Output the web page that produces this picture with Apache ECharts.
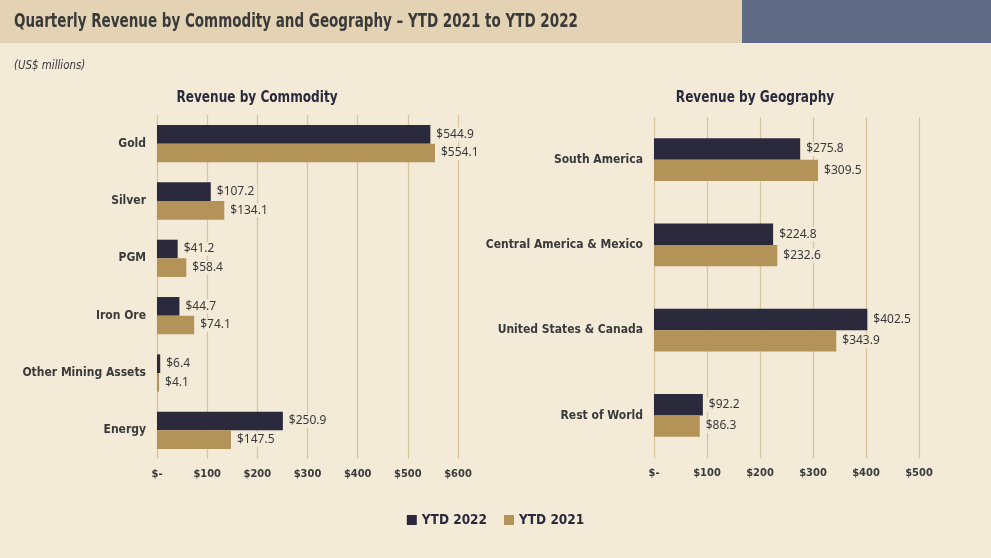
<!DOCTYPE html>
<html><head><meta charset="utf-8">
<script src="https://cdn.jsdelivr.net/npm/echarts@6/dist/echarts.min.js"></script>
<style>html,body{margin:0;padding:0;background:#f3ead8;}#c{width:991px;height:558px;}</style>
</head><body><div id="c"></div>
<script>
const commodities = ['Gold','Silver','PGM','Iron Ore','Other Mining Assets','Energy'];
const commodity2022 = [544.9,107.2,41.2,44.7,6.4,250.9];
const commodity2021 = [554.1,134.1,58.4,74.1,4.1,147.5];
const geographies = ['South America','Central America & Mexico','United States & Canada','Rest of World'];
const geo2022 = [275.8,224.8,402.5,92.2];
const geo2021 = [309.5,232.6,343.9,86.3];
const seriesNames = ['YTD 2022','YTD 2021'];

const BG = '#f3ead8', DARK = '#2b2a3d', GOLD = '#b39358', GRIDC = '#d9c69e';
const NARROW = '"DejaVu Sans Condensed", "Liberation Sans Narrow", sans-serif';
const chart = echarts.init(document.getElementById('c'));

const valFmt = p => '$' + p.value.toFixed(1);
const labelCfg = {show:true, position:'right', formatter: valFmt, color:'#3a3a3a',
  fontFamily:'"Noto Sans", sans-serif', fontSize:12, backgroundColor:BG, padding:[1,3], distance:3};

function xAx(gi, max){
  return {type:'value', gridIndex:gi, min:0, max:max, interval:100,
    axisLine:{show:false}, axisTick:{show:false},
    splitLine:{show:true, lineStyle:{color:GRIDC, width:1.3}},
    axisLabel:{formatter: v => v===0 ? '$-' : '$'+v, fontFamily:NARROW, fontWeight:'bold', fontSize:11, color:'#3a3a3a', margin:10}};
}
function yAx(gi, cats){
  return {type:'category', gridIndex:gi, data:cats, inverse:true,
    axisLine:{show:false}, axisTick:{show:false},
    axisLabel:{fontFamily:NARROW, fontWeight:'bold', fontSize:12, color:'#3a3a3a', margin:11, padding:[3,0,0,0]}};
}

chart.setOption({
  backgroundColor: BG,
  animation:false,
  graphic:[
    {type:'rect', left:0, top:0, shape:{width:742, height:43}, style:{fill:'#e3d3b4'}},
    {type:'rect', left:742, top:0, shape:{width:249, height:43}, style:{fill:'#5f6a84'}},
    {type:'text', x:14, y:12, scaleX:0.75, style:{text:'Quarterly Revenue by Commodity and Geography – YTD 2021 to YTD 2022', font:'bold 20px '+NARROW, fill:'#3a3a3a'}},
    {type:'text', x:14, y:60, scaleX:0.95, style:{text:'(US$ millions)', font:'italic 12px '+NARROW, fill:'#3a3a3a'}},
    {type:'text', x:257, y:90, scaleX:0.84, style:{text:'Revenue by Commodity', font:'bold 16px '+NARROW, fill:'#2b2a3d', align:'center'}},
    {type:'text', x:755, y:90, scaleX:0.84, style:{text:'Revenue by Geography', font:'bold 16px '+NARROW, fill:'#2b2a3d', align:'center'}}
  ],
  legend:{data:seriesNames, bottom:26, left:'center', itemWidth:10, itemHeight:10, itemGap:17, icon:'rect',
    textStyle:{fontFamily:NARROW, fontWeight:'bold', fontSize:13.5, color:'#2b2a3d'}},
  grid:[
    {left:157, right:533, top:115, bottom:99},
    {left:654, right:72, top:117, bottom:100}
  ],
  xAxis:[xAx(0,600), xAx(1,500)],
  yAxis:[yAx(0,commodities), yAx(1,geographies)],
  series:[
    {name:seriesNames[0], type:'bar', xAxisIndex:0, yAxisIndex:0, data:commodity2022, itemStyle:{color:DARK}, barGap:'0%', barCategoryGap:'35%', label:labelCfg},
    {name:seriesNames[1], type:'bar', xAxisIndex:0, yAxisIndex:0, data:commodity2021, itemStyle:{color:GOLD}, barGap:'0%', barCategoryGap:'35%', label:labelCfg},
    {name:seriesNames[0], type:'bar', xAxisIndex:1, yAxisIndex:1, data:geo2022, itemStyle:{color:DARK}, barGap:'0%', barCategoryGap:'50%', label:labelCfg},
    {name:seriesNames[1], type:'bar', xAxisIndex:1, yAxisIndex:1, data:geo2021, itemStyle:{color:GOLD}, barGap:'0%', barCategoryGap:'50%', label:labelCfg}
  ]
});
</script></body></html>
